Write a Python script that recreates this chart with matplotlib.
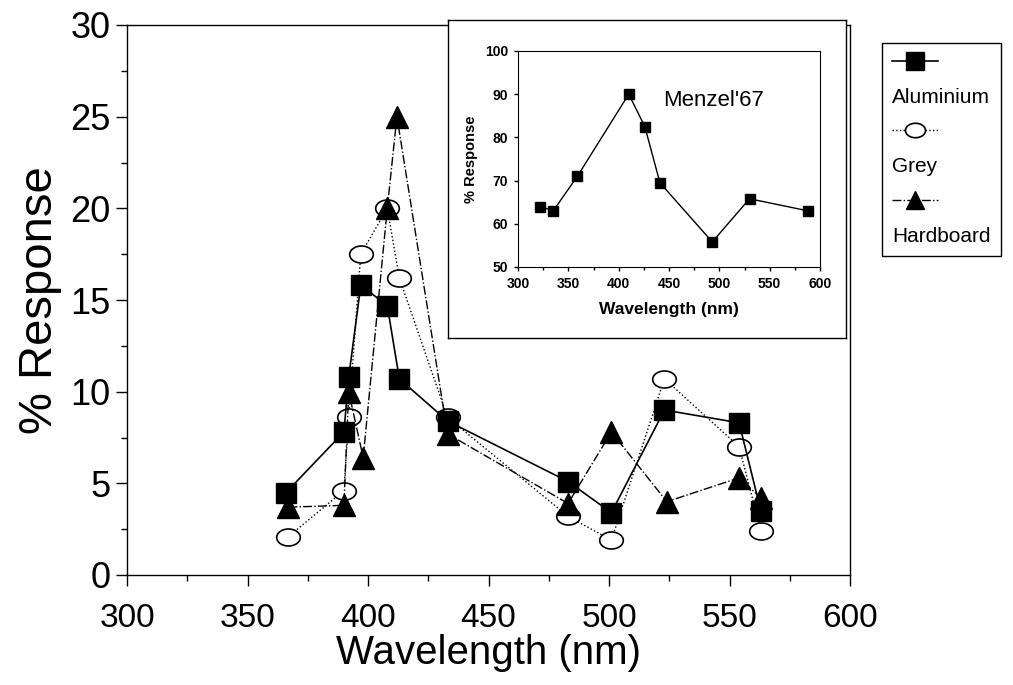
#! /usr/bin/env python3

'''
Spectral response of three boards, with Menzel (1967) inset.
'''

import numpy as np
import matplotlib
matplotlib.use('Agg')
import matplotlib.pyplot as plt
from matplotlib.lines import Line2D
from matplotlib.ticker import MultipleLocator

plt.rcParams['font.family'] = ['Liberation Sans', 'DejaVu Sans']

# main chart
wl_aluminium = [366, 390, 392, 397, 408, 413, 433, 483, 501, 523, 554, 563]
resp_aluminium = [4.5, 7.8, 10.8, 15.8, 14.7, 10.7, 8.4, 5.1, 3.4, 9.0, 8.3, 3.5]
wl_grey = [367, 390, 392, 397, 408, 413, 433, 483, 501, 523, 554, 563]
resp_grey = [2.1, 4.6, 8.6, 17.5, 20.0, 16.2, 8.6, 3.2, 1.9, 10.7, 7.0, 2.4]
wl_hardboard = [367, 390, 392, 398, 408, 412, 433, 483, 501, 524, 554, 563]
resp_hardboard = [3.7, 3.8, 10.0, 6.4, 20.0, 25.0, 7.7, 3.9, 7.8, 4.0, 5.3, 4.2]

# inset: Menzel'67
wl_menzel = [322, 335, 359, 410, 426, 441, 493, 530, 588]
resp_menzel = [64, 63, 71, 90, 82.5, 69.5, 55.8, 65.8, 63]

W, H = 1013, 685


def fig_box(left, top, right, bottom):
    # pixel box -> figure fraction [l, b, w, h]
    return [left / W, 1 - bottom / H, (right - left) / W, (bottom - top) / H]


def main():
    fig = plt.figure(figsize=(W / 100, H / 100), dpi=100)
    ax = fig.add_axes(fig_box(127, 25, 850, 575))

    t = np.linspace(0, 2 * np.pi, 61)
    ellipse = np.column_stack([np.cos(t), 0.72 * np.sin(t)])

    h_grey, = ax.plot(wl_grey, resp_grey, linestyle=':', color='black',
                      linewidth=1.0, marker=ellipse, markersize=17,
                      markerfacecolor='white', markeredgecolor='black',
                      markeredgewidth=1.2)
    h_hard, = ax.plot(wl_hardboard, resp_hardboard, linestyle='-.',
                      color='black', linewidth=1.0, marker='^',
                      markersize=16, markerfacecolor='black',
                      markeredgecolor='black')
    h_al, = ax.plot(wl_aluminium, resp_aluminium, linestyle='-',
                    color='black', linewidth=1.2, marker='s',
                    markersize=15, markerfacecolor='black',
                    markeredgecolor='black')

    ax.set_xlim(300, 600)
    ax.set_ylim(0, 30)
    ax.xaxis.set_major_locator(MultipleLocator(50))
    ax.xaxis.set_minor_locator(MultipleLocator(25))
    ax.yaxis.set_major_locator(MultipleLocator(5))
    ax.yaxis.set_minor_locator(MultipleLocator(2.5))
    ax.tick_params(which='major', direction='out', length=8, width=1)
    ax.tick_params(which='minor', direction='out', length=4, width=1)
    ax.tick_params(axis='x', which='major', labelsize=24, pad=12)
    ax.tick_params(axis='y', which='major', labelsize=26, pad=4)
    for spine in ax.spines.values():
        spine.set_linewidth(1.0)
    ax.set_xlabel('Wavelength (nm)', fontsize=29, labelpad=0)
    ax.set_ylabel('% Response', fontsize=34, labelpad=6)

    # legend: marker row above each label
    blank = Line2D([], [], linestyle='none')
    leg = fig.legend([h_al, blank, h_grey, blank, h_hard, blank],
                     ['', 'Aluminium', '', 'Grey', '', 'Hardboard'],
                     loc='upper left',
                     bbox_to_anchor=(882 / W, 1 - 43 / H),
                     borderaxespad=0,
                     fontsize=15, frameon=True, fancybox=False,
                     edgecolor='black', framealpha=1,
                     handlelength=2.2, handletextpad=-2.2,
                     labelspacing=0.75, borderpad=0.5, markerscale=0.85)
    leg.get_frame().set_linewidth(1.0)

    # inset frame and inset chart
    frame = fig.add_axes(fig_box(448, 20, 846, 338))
    frame.set_xticks([])
    frame.set_yticks([])
    for spine in frame.spines.values():
        spine.set_linewidth(1.0)

    inset = fig.add_axes(fig_box(518, 51, 820, 267))
    inset.plot(wl_menzel, resp_menzel, linestyle='-', color='black',
               linewidth=1.0, marker='s', markersize=6.5,
               markerfacecolor='black')
    inset.set_xlim(300, 600)
    inset.set_ylim(50, 100)
    inset.xaxis.set_major_locator(MultipleLocator(50))
    inset.xaxis.set_minor_locator(MultipleLocator(25))
    inset.yaxis.set_major_locator(MultipleLocator(10))
    inset.tick_params(which='major', direction='out', length=3, width=1,
                      labelsize=10, pad=4)
    inset.tick_params(which='minor', direction='out', length=2, width=1)
    for lab in inset.get_xticklabels() + inset.get_yticklabels():
        lab.set_fontweight('bold')
    inset.set_xlabel('Wavelength (nm)', fontsize=12.5, fontweight='bold',
                     labelpad=8)
    inset.set_ylabel('% Response', fontsize=10.5, fontweight='bold',
                     labelpad=5)
    inset.text(444, 88.6, "Menzel'67", fontsize=16, va='center', ha='left')

    fig.savefig('out.png', dpi=100)


if __name__ == '__main__':
    main()
